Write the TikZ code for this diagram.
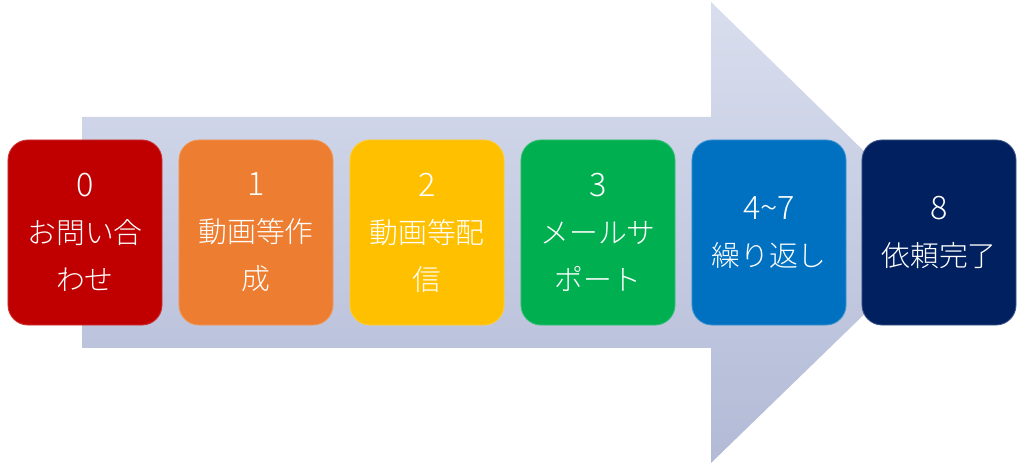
\documentclass[tikz,border=0pt]{standalone}
\usepackage{fontspec}
\setmainfont{Noto Sans CJK JP Light}
\usepackage{tikz}

\definecolor{arrtop}{RGB}{217,222,238}
\definecolor{arrbot}{RGB}{178,186,214}
\definecolor{stepred}{RGB}{192,0,0}
\definecolor{steporange}{RGB}{237,125,49}
\definecolor{stepyellow}{RGB}{255,192,0}
\definecolor{stepgreen}{RGB}{0,176,80}
\definecolor{stepblue}{RGB}{0,112,192}
\definecolor{stepnavy}{RGB}{0,32,96}
\newcommand{\stepnum}[1]{{\fontsize{23}{33.4}\selectfont #1}}

\begin{document}
\begin{tikzpicture}[x=0.025cm,y=0.025cm,
    stepbox/.style={rectangle,rounded corners=0.5cm,minimum width=3.85cm,
      minimum height=4.625cm,inner sep=0pt,text=white,align=center,
      font=\fontsize{20.5}{33.4}\selectfont,line width=0.6pt}]
  \useasboundingbox (0,0) rectangle (1024,466);

  % big arrow
  \shade[top color=arrtop,bottom color=arrbot]
    (82,349) -- (711,349) -- (711,464) -- (948,233) -- (711,3)
    -- (711,118) -- (82,118) -- cycle;

  % nodes
  \node[stepbox,fill=stepred,draw=stepred!80!white] (S0)
    at (85,233.5) {\stepnum{0}\\お問い合\\わせ};
  \node[stepbox,fill=steporange,draw=steporange!80!white] (S1)
    at (256,233.5) {\stepnum{1}\\動画等作\\成};
  \node[stepbox,fill=stepyellow,draw=stepyellow!80!white] (S2)
    at (427,233.5) {\stepnum{2}\\動画等配\\信};
  \node[stepbox,fill=stepgreen,draw=stepgreen!80!white] (S3)
    at (598,233.5) {\stepnum{3}\\メールサ\\ポート};
  \node[stepbox,fill=stepblue,draw=stepblue!75!white] (S4)
    at (769,233.5) {\stepnum{4\textasciitilde 7}\\繰り返し};
  \node[stepbox,fill=stepnavy,draw=stepnavy!75!white] (S8)
    at (939,233.5) {\stepnum{8}\\依頼完了};
\end{tikzpicture}
\end{document}
